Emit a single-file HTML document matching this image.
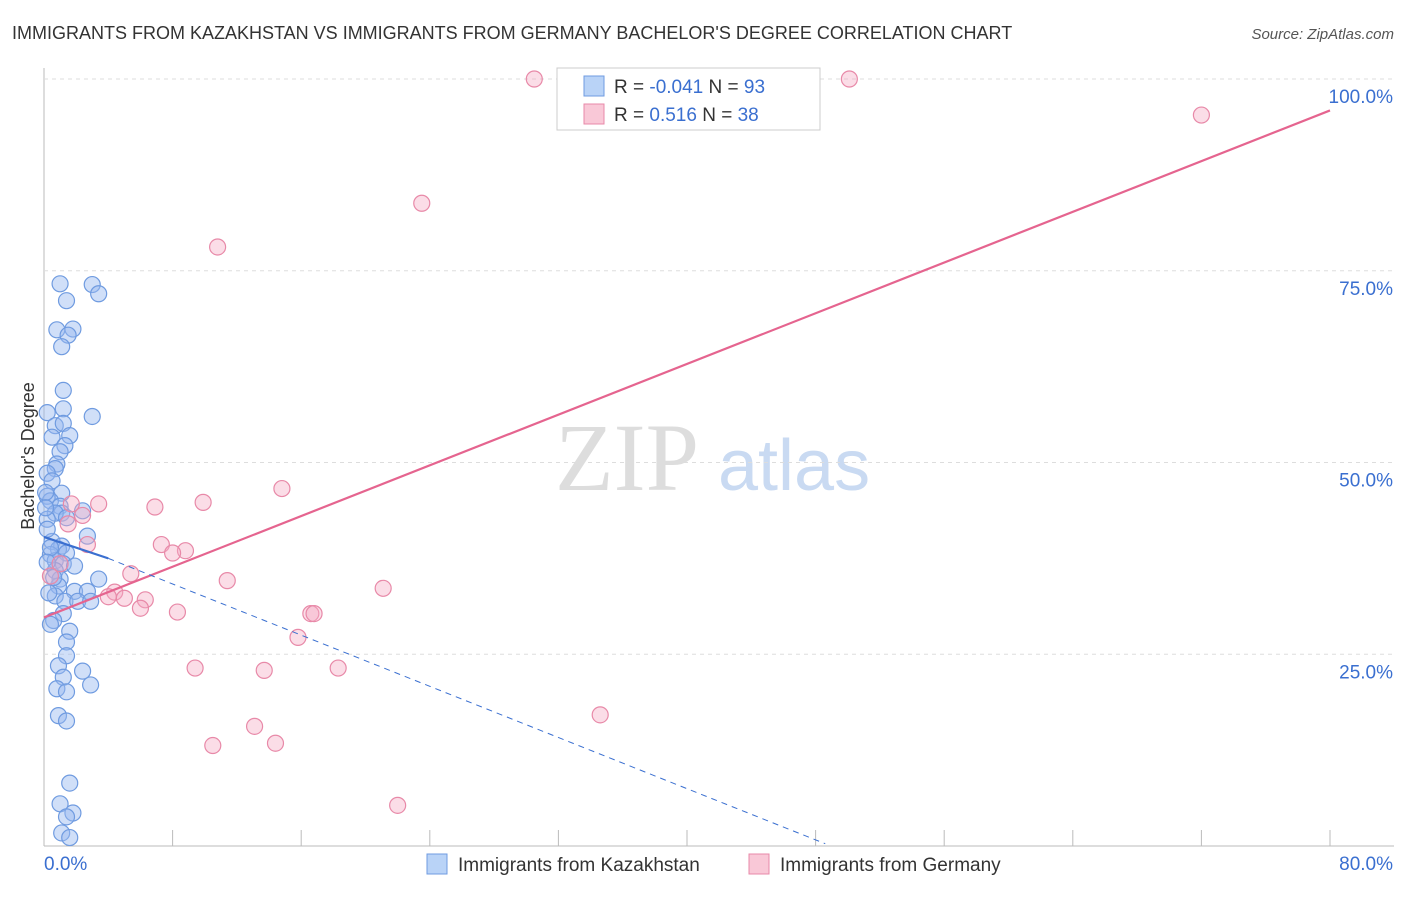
<!DOCTYPE html>
<html><head><meta charset="utf-8"><style>
body{margin:0;background:#fff;font-family:"Liberation Sans",sans-serif}
</style></head><body>
<svg id="c" width="1406" height="892" xmlns="http://www.w3.org/2000/svg">
<text x="12" y="39" font-size="18" fill="#333">IMMIGRANTS FROM KAZAKHSTAN VS IMMIGRANTS FROM GERMANY BACHELOR'S DEGREE CORRELATION CHART</text>
<text x="1394" y="39" font-size="15" fill="#555" text-anchor="end" font-style="italic">Source: ZipAtlas.com</text>
<text x="34" y="456" font-size="18" fill="#333" text-anchor="middle" transform="rotate(-90 34 456)">Bachelor's Degree</text>
<g><text x="555" y="490" font-size="96" fill="#ddd" font-family="Liberation Serif">ZIP</text><text x="718" y="490" font-size="72" fill="#c9daf2">atlas</text></g>
<g id="grid"></g><g id="pts"></g><g id="lines"></g>
<g>
<rect x="557" y="68" width="263" height="62" fill="#fff" stroke="#ccc"/>
<rect x="584" y="76" width="20" height="20" fill="#b9d3f7" stroke="#6f9be0"/>
<rect x="584" y="104" width="20" height="20" fill="#f9c8d7" stroke="#e889a8"/>
<text x="614" y="93" font-size="19" fill="#333">R = <tspan fill="#3a6fd0">-0.041</tspan>   N = <tspan fill="#3a6fd0">93</tspan></text>
<text x="614" y="121" font-size="19" fill="#333">R =   <tspan fill="#3a6fd0">0.516</tspan>   N = <tspan fill="#3a6fd0">38</tspan></text>
</g>
<g>
<rect x="427" y="854" width="20" height="20" fill="#b9d3f7" stroke="#6f9be0"/>
<text x="458" y="871" font-size="19" fill="#333">Immigrants from Kazakhstan</text>
<rect x="749" y="854" width="20" height="20" fill="#f9c8d7" stroke="#e889a8"/>
<text x="780" y="871" font-size="19" fill="#333">Immigrants from Germany</text>
</g>
</svg>
<script>
const yTicks=[25,50,75,100];
const yTickLabels=["25.0%","50.0%","75.0%","100.0%"];
const blueX=[1,3,3.4,1.4,0.8,1.8,1.5,1.1,1.2,3,1.2,0.2,0.7,1.2,1.6,0.5,1.3,1,0.8,0.7,0.2,0.5,1.1,0.2,0.4,1,1.1,0.7,1.4,2.4,0.2,2.7,0.5,1.1,0.9,0.4,1.4,0.7,1.2,1.9,0.7,1,3.4,0.9,1.9,2.7,0.7,1.3,2.1,2.9,1.2,0.6,1.6,1.4,1.4,0.9,2.4,1.2,2.9,0.8,1.4,0.9,1.4,1.6,1,1.8,1.4,1.1,1.6,0.4,0.2,0.6,0.3,0.4,0.2,0.1,0.1];
const blueY=[73.3,73.2,72,71.1,67.3,67.4,66.6,65.1,59.4,56,57,56.5,54.8,55.1,53.5,53.3,52.2,51.4,49.8,49.2,48.6,47.6,46,45.6,45,44.3,43.4,43.4,42.8,43.7,42.6,40.4,39.7,39.1,38.7,38,38.2,37.2,36.8,36.5,35.9,34.8,34.8,33.9,33.2,33.2,32.6,31.9,31.9,31.9,30.3,29.4,28,26.6,24.8,23.5,22.8,22,21,20.5,20.1,17,16.3,8.2,5.5,4.3,3.8,1.7,1.1,38.9,37,35,33,28.9,41.3,46.1,44.1];
const pinkX=[30.5,50.1,72,23.5,10.8,14.8,3.4,6.9,9.9,2.4,1.5,2.7,7.3,8.8,8,5.4,11.4,4.4,4,5,6.3,6,8.3,16.6,16.8,21.1,15.8,9.4,13.7,18.3,34.6,13.1,10.5,14.4,22,1,0.4,1.7];
const pinkY=[100,100,95.3,83.8,78.1,46.6,44.6,44.2,44.8,43.1,42,39.3,39.3,38.5,38.2,35.5,34.6,33.1,32.5,32.3,32.1,31.0,30.5,30.3,30.3,33.6,27.2,23.2,22.9,23.2,17.1,15.6,13.1,13.4,5.3,36.8,35.2,44.6];
const x=v=>44+v/80*1286, y=v=>846-v/100*767;
const ns="http://www.w3.org/2000/svg";
function mk(t,a,p){const e=document.createElementNS(ns,t);for(const k in a)e.setAttribute(k,a[k]);p.appendChild(e);return e;}
const g=document.getElementById('grid');
mk('line',{x1:44,y1:68,x2:44,y2:846,stroke:'#bbb'},g);
mk('line',{x1:44,y1:846,x2:1394,y2:846,stroke:'#bbb'},g);
for(let i=1;i<=10;i++){const l=mk('line',{x1:x(i*8),y1:830,x2:x(i*8),y2:846,stroke:'#bbb'},g);}
yTicks.forEach((t,i)=>{const l=mk('line',{x1:44,y1:y(t),x2:1394,y2:y(t),stroke:'#ddd','stroke-dasharray':'4,4'},g);

const tx=mk('text',{x:1393,y:y(t)+24,'font-size':19,fill:'#3a6fd0','text-anchor':'end'},g);tx.textContent=yTickLabels[i];
});
[[44,'start','0.0%'],[1393,'end','80.0%']].forEach(a=>{const t=mk('text',{x:a[0],y:870,'font-size':19,fill:'#3a6fd0','text-anchor':a[1]},g);t.textContent=a[2];});
const p=document.getElementById('pts');
blueX.forEach((v,i)=>{const c=mk('circle',{cx:x(v),cy:y(blueY[i]),r:8,fill:'rgba(150,185,240,0.45)',stroke:'#6f9be0','stroke-width':1.2},p);});
pinkX.forEach((v,i)=>{const c=mk('circle',{cx:x(v),cy:y(pinkY[i]),r:8,fill:'rgba(245,170,195,0.4)',stroke:'#e889a8','stroke-width':1.2},p);});
const L=document.getElementById('lines');
let e=mk('line',{x1:x(0),y1:y(29.8),x2:x(80),y2:y(95.9),stroke:'#e5648f','stroke-width':2.2},L);
e=mk('line',{x1:x(0),y1:y(40.3),x2:x(4),y2:y(37.5),stroke:'#3a6fd0','stroke-width':2.2},L);
e=mk('line',{x1:x(4),y1:y(37.5),x2:x(48.6),y2:y(0.3),stroke:'#3a6fd0','stroke-width':1,'stroke-dasharray':'6,5'},L);
</script>
</body></html>
